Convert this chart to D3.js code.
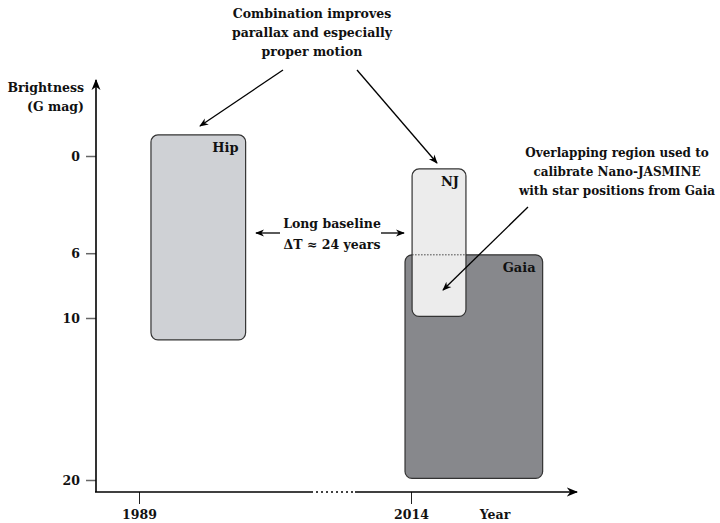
<!DOCTYPE html>
<html><head><meta charset="utf-8">
<script src="https://cdn.jsdelivr.net/npm/d3@7"></script>
<style>
body{margin:0;background:#fff;}
text{font-family:"DejaVu Serif","Liberation Serif",serif;font-weight:bold;fill:#111;}
</style></head>
<body><svg id="c" width="720" height="523"></svg>
<script>
// ---- data ----
const missions = ["Hip", "Gaia", "NJ"];
const yearStart = [1990.1, 2013.45, 2014.1];
const yearEnd   = [1998.8, 2026.1, 2019.05];
const magBright = [-1.3, 6.1, 0.8];
const magFaint  = [11.35, 19.9, 9.9];
const fills     = ["#cfd1d5", "#87888c", "#ececec"];
const magTicks  = [0, 6, 10, 20];
const yearTicks = [1989, 2014];
const topNote   = ["Combination improves", "parallax and especially", "proper motion"];
const baseNote  = ["Long baseline", "ΔT ≈ 24 years"];
const overNote  = ["Overlapping region used to", "calibrate Nano-JASMINE", "with star positions from Gaia"];

const svg = d3.select("#c");
const x = d3.scaleLinear().domain([1989, 2014]).range([139, 411]);
const y = d3.scaleLinear().domain([0, 20]).range([156, 480]);

const defs = svg.append("defs");
defs.append("marker").attr("id","ah").attr("viewBox","0 0 10 10").attr("refX",9).attr("refY",5)
  .attr("markerWidth",7).attr("markerHeight",7).attr("orient","auto-start-reverse")
  .append("path").attr("d","M0,1 L10,5 L0,9 L3,5 Z").attr("fill","#000");

// rectangles
const rects = svg.append("g");
missions.forEach((m,i)=>{
  const x0 = x(yearStart[i]), x1 = x(yearEnd[i]);
  const y0 = y(magBright[i]), y1 = y(magFaint[i]);
  rects.append("rect").attr("x",x0).attr("y",y0).attr("width",x1-x0).attr("height",y1-y0)
    .attr("rx",7).attr("ry",7).attr("fill",fills[i]).attr("stroke","#333").attr("stroke-width",1.2);
  rects.append("text").attr("x",x1-7).attr("y",y0+17).attr("text-anchor","end")
    .attr("font-size",13).text(m);
});
// dotted overlap line: Gaia's bright limit through NJ
const iG = missions.indexOf("Gaia"), iN = missions.indexOf("NJ");
svg.append("line").attr("x1",x(yearStart[iN])).attr("x2",x(yearEnd[iN]))
  .attr("y1",y(magBright[iG])).attr("y2",y(magBright[iG]))
  .attr("stroke","#444").attr("stroke-width",1).attr("stroke-dasharray","1.5,1.5");

// axes
const axisX = 96, axisY = 492;
const yAxis = svg.append("g").attr("transform",`translate(${axisX},0)`)
  .call(d3.axisLeft(y).tickValues(magTicks).tickSize(10).tickPadding(6));
yAxis.select(".domain").remove();
yAxis.selectAll(".tick line").attr("stroke","#666").attr("stroke-width",1.5);
yAxis.selectAll(".tick text").attr("font-size",12.5).attr("font-family",null).attr("fill","#111");

const xAxis = svg.append("g").attr("transform",`translate(0,${axisY})`)
  .call(d3.axisBottom(x).tickValues(yearTicks).tickFormat(d3.format("d")).tickSize(12).tickPadding(6));
xAxis.select(".domain").remove();
xAxis.selectAll(".tick line").attr("stroke","#222").attr("stroke-width",1);
xAxis.selectAll(".tick text").attr("font-size",12.5).attr("font-family",null).attr("fill","#111");

svg.append("line").attr("x1",axisX).attr("y1",axisY).attr("x2",axisX).attr("y2",80)
  .attr("stroke","#000").attr("stroke-width",1.6).attr("marker-end","url(#ah)");
svg.append("line").attr("x1",axisX-1).attr("y1",axisY).attr("x2",577).attr("y2",axisY)
  .attr("stroke","#000").attr("stroke-width",1.6).attr("marker-end","url(#ah)");
// axis break
svg.append("line").attr("x1",313).attr("x2",355).attr("y1",axisY).attr("y2",axisY)
  .attr("stroke","#fff").attr("stroke-width",2).attr("stroke-dasharray","3,2");

svg.append("text").attr("x",84).attr("y",92).attr("text-anchor","end").attr("font-size",12.5).text("Brightness");
svg.append("text").attr("x",84).attr("y",111).attr("text-anchor","end").attr("font-size",12.5).text("(G mag)");
svg.append("text").attr("x",495).attr("y",519).attr("text-anchor","middle").attr("font-size",12.5).text("Year");

function block(lines, cx, y0, dy, fs){
  const t = svg.append("text").attr("text-anchor","middle").attr("font-size",fs);
  lines.forEach((l,i)=>t.append("tspan").attr("x",cx).attr("y",y0+i*dy).text(l));
}
block(topNote, 312, 18, 19, 12.5);
block(baseNote, 332, 228, 21, 12.5);
block(overNote, 617, 157, 19, 12);

function arrow(x1,y1,x2,y2){
  svg.append("line").attr("x1",x1).attr("y1",y1).attr("x2",x2).attr("y2",y2)
    .attr("stroke","#000").attr("stroke-width",1.3).attr("marker-end","url(#ah)");
}
arrow(283,70,200,126);
arrow(357,70,437,163);
arrow(280,233,256,233);
arrow(381,233,404,233);
arrow(528,207,443,290);
</script></body></html>
